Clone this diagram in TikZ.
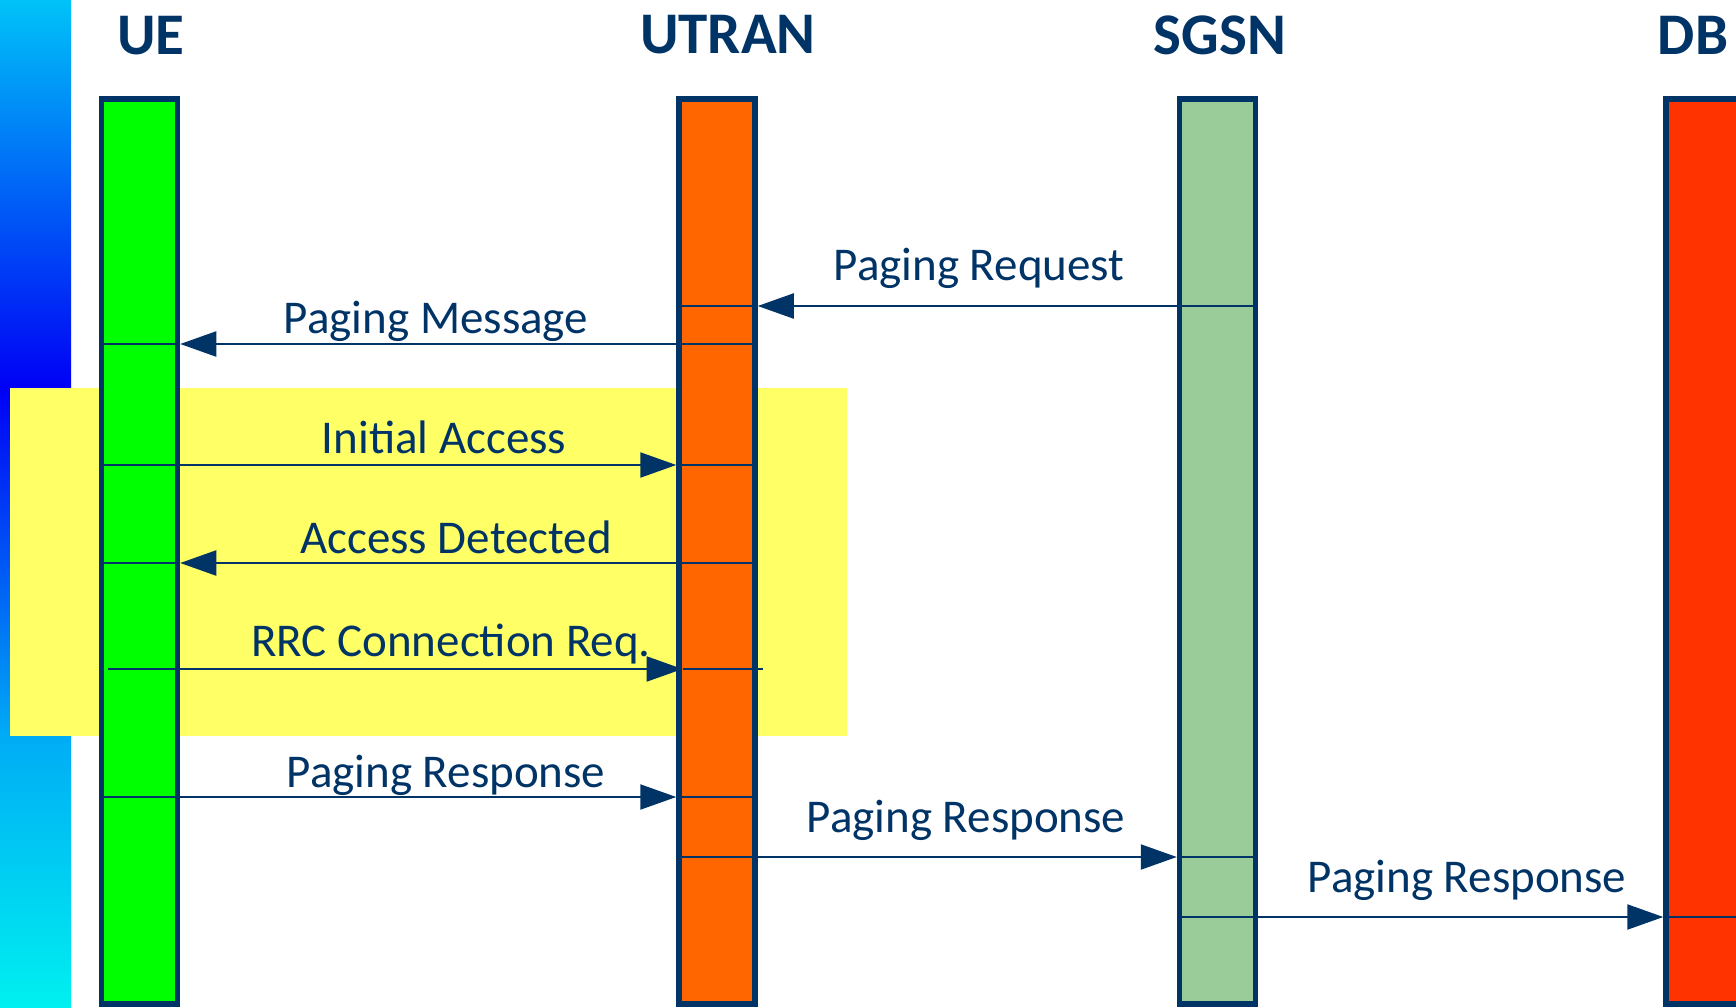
\documentclass[tikz,border=0pt]{standalone}
\usepackage{fontspec}
\setmainfont{Carlito}
\usetikzlibrary{arrows.meta,calc}

\definecolor{navy}{RGB}{0,51,102}
\definecolor{uegreen}{RGB}{0,255,0}
\definecolor{utranorange}{RGB}{255,102,0}
\definecolor{sgsngreen}{RGB}{153,204,153}
\definecolor{dbred}{RGB}{255,51,0}
\definecolor{hilite}{RGB}{255,255,102}
\definecolor{skytop}{RGB}{0,195,248}
\definecolor{deepblue}{RGB}{0,0,245}
\definecolor{midsky}{RGB}{0,172,245}
\definecolor{cyanend}{RGB}{0,240,240}

\tikzset{
  bar/.style={draw=navy, line width=5.5pt, minimum width=76pt,
    minimum height=905pt, inner sep=0pt},
  msg/.style={draw=navy, line width=2.2pt,
    -{Triangle[length=36pt,width=25pt]}},
  wire/.style={draw=navy, line width=2.2pt},
  lbl/.style={text=navy, anchor=base, inner sep=0pt,
    font=\fontsize{47}{56}\selectfont},
  title/.style={text=navy, anchor=base, inner sep=0pt,
    font=\bfseries\fontsize{59}{70}\selectfont}
}

\begin{document}
\begin{tikzpicture}[x=1pt,y=-1pt]
\useasboundingbox (0,0) rectangle (1736,1008);
\fill[white] (0,0) rectangle (1736,1008);

% colour strip on the left edge
\shade[top color=skytop, bottom color=deepblue] (0,0) rectangle (71,388);
\shade[top color=deepblue, bottom color=midsky] (0,388) rectangle (71,736);
\shade[top color=midsky, bottom color=cyanend] (0,736) rectangle (71,1008);

% highlighted connection set-up phase
\fill[hilite] (10,388) rectangle (847,736);

% entity titles
\node[title] (tue)    at (151,55)  {UE};
\node[title] (tutran) at (728,54)  {UTRAN};
\node[title] (tsgsn)  at (1220,55) {SGSN};
\node[title] (tdb)    at (1693,55) {DB};

% lifeline bars
\node[bar, fill=uegreen]     (ue)    at (139.5,551.5) {};
\node[bar, fill=utranorange] (utran) at (717,551.5)   {};
\node[bar, fill=sgsngreen]   (sgsn)  at (1217.5,551.5) {};
\node[bar, fill=dbred]       (db)    at (1704,551.5)  {};

% message levels
\coordinate (y1) at (0,306);
\coordinate (y2) at (0,344);
\coordinate (y3) at (0,465);
\coordinate (y4) at (0,563);
\coordinate (y5) at (0,669);
\coordinate (y6) at (0,797);
\coordinate (y7) at (0,857);
\coordinate (y8) at (0,917);

% Paging Request: SGSN -> UTRAN
\coordinate (a1) at ($(sgsn.center |- y1)+(35.25,0)$);
\coordinate (b1) at ($(utran.center |- y1)+(40.75,0)$);
\coordinate (c1) at ($(utran.center |- y1)+(-35.25,0)$);
\draw[msg] (a1) -- (b1);
\draw[wire] (b1) -- (c1);

% Paging Message: UTRAN -> UE
\coordinate (a2) at ($(utran.center |- y2)+(35.25,0)$);
\coordinate (b2) at ($(ue.center |- y2)+(40.75,0)$);
\coordinate (c2) at ($(ue.center |- y2)+(-35.25,0)$);
\draw[msg] (a2) -- (b2);
\draw[wire] (b2) -- (c2);

% Initial Access: UE -> UTRAN
\coordinate (a3) at ($(ue.center |- y3)+(-35.25,0)$);
\coordinate (b3) at ($(utran.center |- y3)+(-40.75,0)$);
\coordinate (c3) at ($(utran.center |- y3)+(35.25,0)$);
\draw[msg] (a3) -- (b3);
\draw[wire] (b3) -- (c3);

% Access Detected: UTRAN -> UE
\coordinate (a4) at ($(utran.center |- y4)+(35.25,0)$);
\coordinate (b4) at ($(ue.center |- y4)+(40.75,0)$);
\coordinate (c4) at ($(ue.center |- y4)+(-35.25,0)$);
\draw[msg] (a4) -- (b4);
\draw[wire] (b4) -- (c4);

% RRC Connection Req.: UE -> UTRAN
\coordinate (a5) at ($(ue.center |- y5)+(-31.5,0)$);
\coordinate (b5) at ($(utran.center |- y5)+(-34.5,0)$);
\coordinate (c5) at ($(utran.center |- y5)+(46,0)$);
\draw[msg] (a5) -- (b5);
\draw[wire] (b5) -- (c5);

% Paging Response: UE -> UTRAN
\coordinate (a6) at ($(ue.center |- y6)+(-35.25,0)$);
\coordinate (b6) at ($(utran.center |- y6)+(-40.75,0)$);
\coordinate (c6) at ($(utran.center |- y6)+(35.25,0)$);
\draw[msg] (a6) -- (b6);
\draw[wire] (b6) -- (c6);

% Paging Response: UTRAN -> SGSN
\coordinate (a7) at ($(utran.center |- y7)+(-35.25,0)$);
\coordinate (b7) at ($(sgsn.center |- y7)+(-40.75,0)$);
\coordinate (c7) at ($(sgsn.center |- y7)+(35.25,0)$);
\draw[msg] (a7) -- (b7);
\draw[wire] (b7) -- (c7);

% Paging Response: SGSN -> DB
\coordinate (a8) at ($(sgsn.center |- y8)+(-35.25,0)$);
\coordinate (b8) at ($(db.center |- y8)+(-40.75,0)$);
\coordinate (c8) at (1736,917);
\draw[msg] (a8) -- (b8);
\draw[wire] (b8) -- (c8);

% message labels
\node[lbl] (l1) at (979,280) {Paging Request};
\node[lbl] (l2) at (436,333) {Paging Message};
\node[lbl] (l3) at (444,453) {Initial Access};
\node[lbl] (l4) at (456,553) {Access Detected};
\node[lbl] (l5) at (451,656) {RRC Connection Req.};
\node[lbl] (l6) at (446,787) {Paging Response};
\node[lbl] (l7) at (966,832) {Paging Response};
\node[lbl] (l8) at (1467,892) {Paging Response};
\end{tikzpicture}
\end{document}
